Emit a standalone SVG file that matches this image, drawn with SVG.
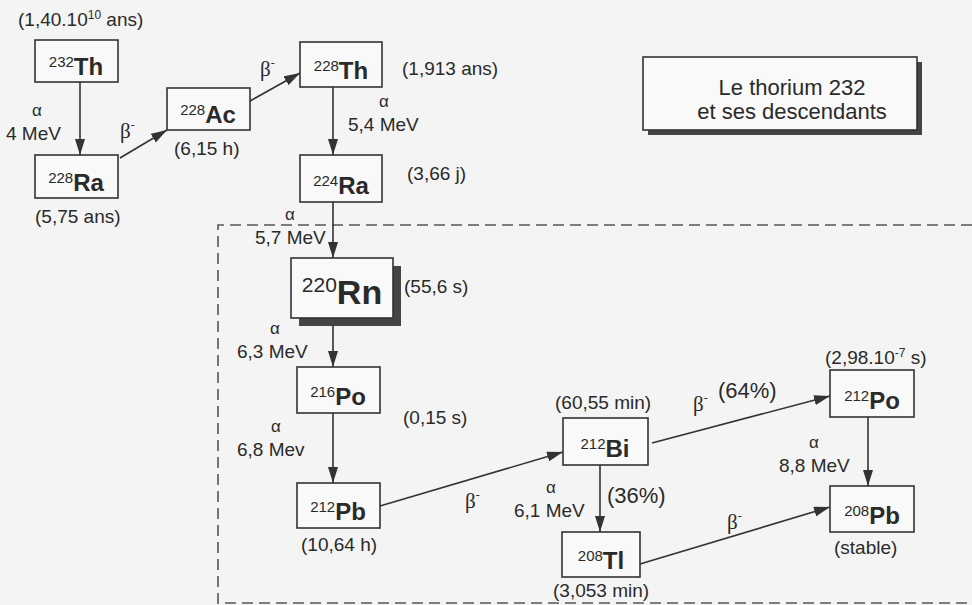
<svg xmlns="http://www.w3.org/2000/svg" width="972" height="605" viewBox="0 0 972 605">
<defs>
<style>
text{font-family:"Liberation Sans",Arial,sans-serif;fill:#2a2a2a}
.box{fill:#f9f9f9;stroke:#333;stroke-width:1.6}
.sh{fill:#444}
.sym{font-size:24px;font-weight:bold;text-anchor:middle}
.mass{font-size:15px;font-weight:normal}
.lbl{font-size:19px}
.gr{font-size:17px}
.beta{font-size:21px;font-family:"Liberation Serif","Times New Roman",serif}
.pct{font-size:22px}
.arr{stroke:#333;stroke-width:1.6;fill:none;marker-end:url(#ah)}
.dash{stroke:#555;stroke-width:1.6;fill:none;stroke-dasharray:11 6}
</style>
<marker id="ah" viewBox="0 0 16 10" refX="16" refY="5" markerWidth="16" markerHeight="10" markerUnits="userSpaceOnUse" orient="auto">
<path d="M0,0 L16,5 L0,10 Z" fill="#333"/>
</marker>
</defs>
<rect width="972" height="605" fill="#f4f4f4"/>
<g id="region">
<path class="dash" d="M972,225 H218 V603 H972"/>
</g>
<g id="title">
<rect class="sh" x="648" y="62" width="274" height="73"/>
<rect class="box" x="643" y="57" width="274" height="73"/>
<text x="792" y="95" font-size="22" text-anchor="middle">Le thorium 232</text>
<text x="792" y="119" font-size="22" text-anchor="middle">et ses descendants</text>
</g>
<g id="connectors">
<line class="arr" x1="80" y1="82" x2="80" y2="155"/>
<line class="arr" x1="120" y1="158" x2="167" y2="130"/>
<line class="arr" x1="250" y1="101" x2="300" y2="73"/>
<line class="arr" x1="333" y1="87" x2="333" y2="155"/>
<line class="arr" x1="333" y1="202" x2="333" y2="258"/>
<line class="arr" x1="333" y1="318" x2="333" y2="367"/>
<line class="arr" x1="333" y1="413" x2="333" y2="483"/>
<line class="arr" x1="380" y1="506" x2="563" y2="452"/>
<line class="arr" x1="600" y1="465" x2="600" y2="532"/>
<line class="arr" x1="652" y1="443" x2="830" y2="396"/>
<line class="arr" x1="868" y1="417" x2="868" y2="486"/>
<line class="arr" x1="640" y1="564" x2="830" y2="507"/>
</g>
<g id="n-th232">
<rect class="box" x="35" y="40" width="83" height="42"/>
<text class="sym" x="76" y="75"><tspan class="mass" dy="-8">232</tspan><tspan dy="8">Th</tspan></text>
<text class="lbl" x="18" y="26">(1,40.10<tspan font-size="12" dy="-7">10</tspan><tspan dy="7"> ans)</tspan></text>
</g>
<g id="n-ra228">
<rect class="box" x="35" y="155" width="83" height="43"/>
<text class="sym" x="76" y="191"><tspan class="mass" dy="-8">228</tspan><tspan dy="8">Ra</tspan></text>
<text class="lbl" x="35" y="223">(5,75 ans)</text>
</g>
<g id="n-ac228">
<rect class="box" x="167" y="88" width="83" height="42"/>
<text class="sym" x="208" y="123"><tspan class="mass" dy="-8">228</tspan><tspan dy="8">Ac</tspan></text>
<text class="lbl" x="174" y="155">(6,15 h)</text>
</g>
<g id="n-th228">
<rect class="box" x="300" y="42" width="82" height="45"/>
<text class="sym" x="341" y="79"><tspan class="mass" dy="-8">228</tspan><tspan dy="8">Th</tspan></text>
<text class="lbl" x="402" y="75">(1,913  ans)</text>
</g>
<g id="n-ra224">
<rect class="box" x="300" y="155" width="82" height="47"/>
<text class="sym" x="341" y="194"><tspan class="mass" dy="-8">224</tspan><tspan dy="8">Ra</tspan></text>
<text class="lbl" x="407" y="180">(3,66 j)</text>
</g>
<g id="n-rn220">
<rect class="sh" x="299" y="266" width="102" height="60"/>
<rect class="box" x="291" y="258" width="102" height="60"/>
<text x="342" y="304" font-size="34" font-weight="bold" text-anchor="middle"><tspan font-size="21" font-weight="normal" dy="-12">220</tspan><tspan dy="12">Rn</tspan></text>
<text class="lbl" x="404" y="293">(55,6 s)</text>
</g>
<g id="n-po216">
<rect class="box" x="297" y="367" width="83" height="46"/>
<text class="sym" x="338" y="405"><tspan class="mass" dy="-8">216</tspan><tspan dy="8">Po</tspan></text>
<text class="lbl" x="403" y="424">(0,15 s)</text>
</g>
<g id="n-pb212">
<rect class="box" x="297" y="483" width="83" height="45"/>
<text class="sym" x="338" y="520"><tspan class="mass" dy="-8">212</tspan><tspan dy="8">Pb</tspan></text>
<text class="lbl" x="301" y="551">(10,64 h)</text>
</g>
<g id="n-bi212">
<rect class="box" x="563" y="418" width="85" height="47"/>
<text class="sym" x="605" y="457"><tspan class="mass" dy="-8">212</tspan><tspan dy="8">Bi</tspan></text>
<text class="lbl" x="555" y="409">(60,55 min)</text>
</g>
<g id="n-tl208">
<rect class="box" x="562" y="532" width="78" height="45"/>
<text class="sym" x="601" y="569"><tspan class="mass" dy="-8">208</tspan><tspan dy="8">Tl</tspan></text>
<text class="lbl" x="553" y="597">(3,053 min)</text>
</g>
<g id="n-po212">
<rect class="box" x="830" y="370" width="84" height="47"/>
<text class="sym" x="872" y="409"><tspan class="mass" dy="-8">212</tspan><tspan dy="8">Po</tspan></text>
<text class="lbl" x="825" y="364">(2,98.10<tspan font-size="12" dy="-7">-7</tspan><tspan dy="7"> s)</tspan></text>
</g>
<g id="n-pb208">
<rect class="box" x="830" y="486" width="84" height="46"/>
<text class="sym" x="872" y="524"><tspan class="mass" dy="-8">208</tspan><tspan dy="8">Pb</tspan></text>
<text class="lbl" x="834" y="554">(stable)</text>
</g>
<g id="labels">
<text class="gr" x="32" y="116">α</text>
<text class="lbl" x="6" y="140">4 MeV</text>
<text class="beta" x="120" y="138">β<tspan font-size="12" dy="-9">-</tspan></text>
<text class="beta" x="260" y="76">β<tspan font-size="12" dy="-9">-</tspan></text>
<text class="gr" x="379" y="107">α</text>
<text class="lbl" x="348" y="131">5,4 MeV</text>
<text class="gr" x="285" y="220">α</text>
<text class="lbl" x="255" y="244">5,7 MeV</text>
<text class="gr" x="270" y="334">α</text>
<text class="lbl" x="237" y="358">6,3 MeV</text>
<text class="gr" x="271" y="432">α</text>
<text class="lbl" x="237" y="456">6,8 Mev</text>
<text class="beta" x="465" y="508">β<tspan font-size="12" dy="-9">-</tspan></text>
<text class="gr" x="546" y="493">α</text>
<text class="lbl" x="514" y="517">6,1 MeV</text>
<text class="pct" x="607" y="503">(36%)</text>
<text class="beta" x="693" y="411">β<tspan font-size="12" dy="-9">-</tspan></text>
<text class="pct" x="718" y="398">(64%)</text>
<text class="gr" x="809" y="448">α</text>
<text class="lbl" x="779" y="472">8,8 MeV</text>
<text class="beta" x="727" y="529">β<tspan font-size="12" dy="-9">-</tspan></text>
</g>
</svg>
